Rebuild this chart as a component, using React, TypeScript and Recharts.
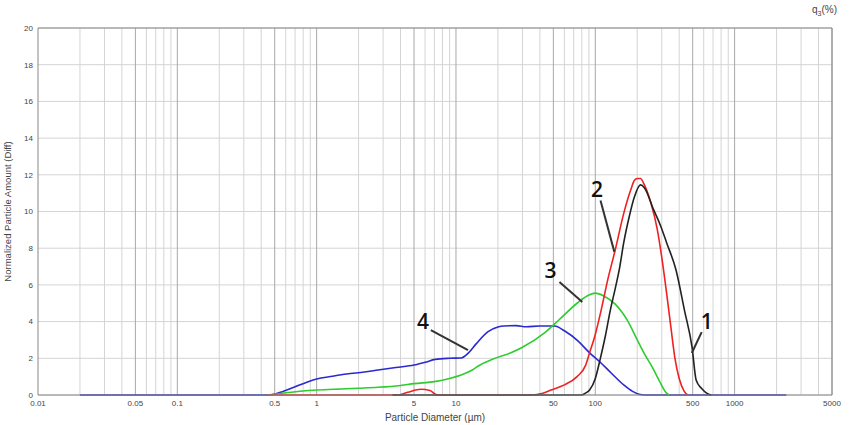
import { LineChart, Line, XAxis, YAxis, CartesianGrid, ReferenceLine, ReferenceDot } from 'recharts';

// particle diameter (um) vs q3 (%) for the four samples
const series1 = [
  { d: 3.5, q: 0 }, { d: 80, q: 0 }, { d: 85, q: 0.1 }, { d: 91, q: 0.27 }, { d: 100, q: 0.9 },
  { d: 108, q: 1.9 }, { d: 118, q: 3.2 }, { d: 128, q: 4.6 }, { d: 139, q: 5.8 }, { d: 150, q: 7.0 },
  { d: 160, q: 8.3 }, { d: 175, q: 9.7 }, { d: 191, q: 10.8 }, { d: 211, q: 11.45 }, { d: 225, q: 11.3 },
  { d: 262, q: 10.1 }, { d: 295, q: 9.2 }, { d: 325, q: 8.3 }, { d: 380, q: 6.8 }, { d: 437, q: 4.6 },
  { d: 495, q: 2.6 }, { d: 530, q: 0.8 }, { d: 580, q: 0.35 }, { d: 630, q: 0.1 }, { d: 680, q: 0 },
];

const series2 = [
  { d: 0.45, q: 0 }, { d: 3.8, q: 0 }, { d: 4.5, q: 0.15 }, { d: 5.6, q: 0.31 }, { d: 6.5, q: 0.25 },
  { d: 7.2, q: 0.02 }, { d: 7.5, q: 0 }, { d: 35, q: 0 }, { d: 42, q: 0.1 }, { d: 48, q: 0.27 },
  { d: 60, q: 0.55 }, { d: 74, q: 1.0 }, { d: 85, q: 1.6 }, { d: 91, q: 2.3 }, { d: 100, q: 3.3 },
  { d: 110, q: 4.6 }, { d: 123, q: 6.3 }, { d: 139, q: 7.9 }, { d: 160, q: 9.9 }, { d: 180, q: 11.2 },
  { d: 191, q: 11.7 }, { d: 200, q: 11.8 }, { d: 212, q: 11.8 }, { d: 222, q: 11.55 }, { d: 250, q: 10.5 },
  { d: 279, q: 9.0 }, { d: 300, q: 7.5 }, { d: 325, q: 5.55 }, { d: 350, q: 3.6 }, { d: 373, q: 2.0 },
  { d: 400, q: 0.9 }, { d: 435, q: 0.2 }, { d: 460, q: 0 },
];

const series3 = [
  { d: 0.45, q: 0 }, { d: 0.6, q: 0.12 }, { d: 0.8, q: 0.22 }, { d: 1, q: 0.27 }, { d: 1.5, q: 0.33 },
  { d: 2, q: 0.37 }, { d: 2.76, q: 0.42 }, { d: 4, q: 0.52 }, { d: 5, q: 0.62 }, { d: 7, q: 0.73 },
  { d: 9, q: 0.9 }, { d: 10.9, q: 1.09 }, { d: 13, q: 1.35 }, { d: 15, q: 1.65 }, { d: 18.5, q: 1.96 },
  { d: 24.8, q: 2.3 }, { d: 30, q: 2.6 }, { d: 43, q: 3.37 }, { d: 55, q: 4.1 }, { d: 74, q: 5.0 },
  { d: 90, q: 5.45 }, { d: 100, q: 5.55 }, { d: 115, q: 5.4 }, { d: 139, q: 4.95 }, { d: 172, q: 4.0 },
  { d: 200, q: 3.0 }, { d: 227, q: 2.2 }, { d: 257, q: 1.5 }, { d: 287, q: 0.8 }, { d: 325, q: 0.1 },
  { d: 340, q: 0 },
];

const series4 = [
  { d: 0.02, q: 0 }, { d: 0.45, q: 0 }, { d: 0.55, q: 0.15 }, { d: 0.7, q: 0.45 }, { d: 0.85, q: 0.7 },
  { d: 1, q: 0.87 }, { d: 1.3, q: 1.02 }, { d: 1.64, q: 1.14 }, { d: 2.2, q: 1.25 }, { d: 2.76, q: 1.36 },
  { d: 3.7, q: 1.5 }, { d: 5, q: 1.63 }, { d: 6, q: 1.78 }, { d: 7.1, q: 1.94 }, { d: 9, q: 2.0 },
  { d: 10.9, q: 2.02 }, { d: 12.3, q: 2.3 }, { d: 14, q: 2.8 }, { d: 17, q: 3.45 }, { d: 20, q: 3.7 },
  { d: 22, q: 3.76 }, { d: 27, q: 3.78 }, { d: 32, q: 3.72 }, { d: 40, q: 3.76 }, { d: 51, q: 3.76 },
  { d: 60, q: 3.5 }, { d: 75, q: 2.95 }, { d: 91, q: 2.3 }, { d: 108, q: 1.8 }, { d: 130, q: 1.2 },
  { d: 160, q: 0.55 }, { d: 185, q: 0.2 }, { d: 210, q: 0.03 }, { d: 240, q: 0 }, { d: 2350, q: 0 },
];

const xTicks = [0.01, 0.05, 0.1, 0.5, 1, 5, 10, 50, 100, 500, 1000, 5000];
const yTicks = [0, 2, 4, 6, 8, 10, 12, 14, 16, 18, 20];
const decades = [0.01, 0.1, 1, 10, 100, 1000];
const gridX = decades
  .flatMap((dec) => [1, 2, 3, 4, 5, 6, 7, 8, 9].map((m) => +(m * dec).toPrecision(3)))
  .filter((v) => v > 0.01 && v <= 5000);

// callouts: label position and leader line ends
const callouts = [
  { name: '4', at: { x: 5.8, y: 3.98 }, from: { x: 6.6, y: 3.54 }, to: { x: 12.2, y: 2.45 } },
  { name: '3', at: { x: 47.7, y: 6.8 }, from: { x: 55.3, y: 6.16 }, to: { x: 80.7, y: 5.07 } },
  { name: '2', at: { x: 103, y: 11.2 }, from: { x: 109, y: 10.6 }, to: { x: 137, y: 7.8 } },
  { name: '1', at: { x: 631, y: 3.98 }, from: { x: 580, y: 3.43 }, to: { x: 493, y: 2.29 } },
];

const font = '"Liberation Sans", Arial, sans-serif';
const tickStyle = { fill: '#444', fontSize: 8, fontFamily: font };

export default function App() {
  return (
    <div style={{ position: 'absolute', left: 0, top: 0, width: 850, height: 425, background: '#fff' }}>
      <LineChart width={850} height={425} margin={{ top: 28, right: 0, bottom: 0, left: 0 }}>
        <CartesianGrid vertical={false} stroke="#d4d4d4" yAxisId="left" />
        <XAxis
          dataKey="d"
          type="number"
          scale="log"
          domain={[0.01, 5000]}
          ticks={xTicks}
          allowDataOverflow
          height={30}
          tickSize={0}
          tickMargin={5}
          tick={tickStyle}
          stroke="#888"
          tickFormatter={(v) => String(v)}
          label={{ value: 'Particle Diameter (µm)', position: 'insideBottom', offset: 4, fill: '#444', fontSize: 10, fontFamily: font }}
        />
        <YAxis
          yAxisId="left"
          domain={[0, 20]}
          ticks={yTicks}
          width={38}
          tickSize={0}
          tickMargin={5}
          tick={tickStyle}
          stroke="#888"
          label={{ value: 'Normalized Particle Amount (Diff)', angle: -90, position: 'insideLeft', offset: 8, fill: '#444', fontSize: 9.5, fontFamily: font, style: { textAnchor: 'middle' } }}
        />
        <YAxis
          yAxisId="right"
          orientation="right"
          domain={[0, 20]}
          ticks={yTicks}
          width={18}
          tickSize={0}
          tickMargin={5}
          tick={tickStyle}
          stroke="#888"
        />
        {gridX.map((v) => (
          <ReferenceLine
            key={v}
            x={v}
            yAxisId="left"
            stroke={xTicks.includes(v) ? '#a8a8a8' : '#d4d4d4'}
            strokeWidth={1}
          />
        ))}
        <ReferenceLine y={20} yAxisId="left" stroke="#888" />
        <Line data={series4} dataKey="q" yAxisId="left" type="monotone" stroke="#2a2ad0" strokeWidth={1.6} dot={false} isAnimationActive={false} />
        <Line data={series3} dataKey="q" yAxisId="left" type="monotone" stroke="#2ecc2e" strokeWidth={1.6} dot={false} isAnimationActive={false} />
        <Line data={series2} dataKey="q" yAxisId="left" type="monotone" stroke="#ee2222" strokeWidth={1.6} dot={false} isAnimationActive={false} />
        <Line data={series1} dataKey="q" yAxisId="left" type="monotone" stroke="#222" strokeWidth={1.6} dot={false} isAnimationActive={false} />
        {callouts.map((c) => (
          <ReferenceLine key={'l' + c.name} yAxisId="left" segment={[c.from, c.to]} stroke="#333" strokeWidth={2} />
        ))}
        {callouts.map((c) => (
          <ReferenceDot
            key={'t' + c.name}
            yAxisId="left"
            x={c.at.x}
            y={c.at.y}
            r={0}
            fill="none"
            stroke="none"
            label={{ value: c.name, position: 'center', fill: '#111', fontSize: 21, fontWeight: 600, fontFamily: '"Open Sans", sans-serif' }}
          />
        ))}
      </LineChart>
      <div style={{ position: 'absolute', left: 812, top: 4, fontSize: 10, color: '#444', fontFamily: font }}>
        q<sub style={{ fontSize: 7 }}>3</sub>(%)
      </div>
    </div>
  );
}
